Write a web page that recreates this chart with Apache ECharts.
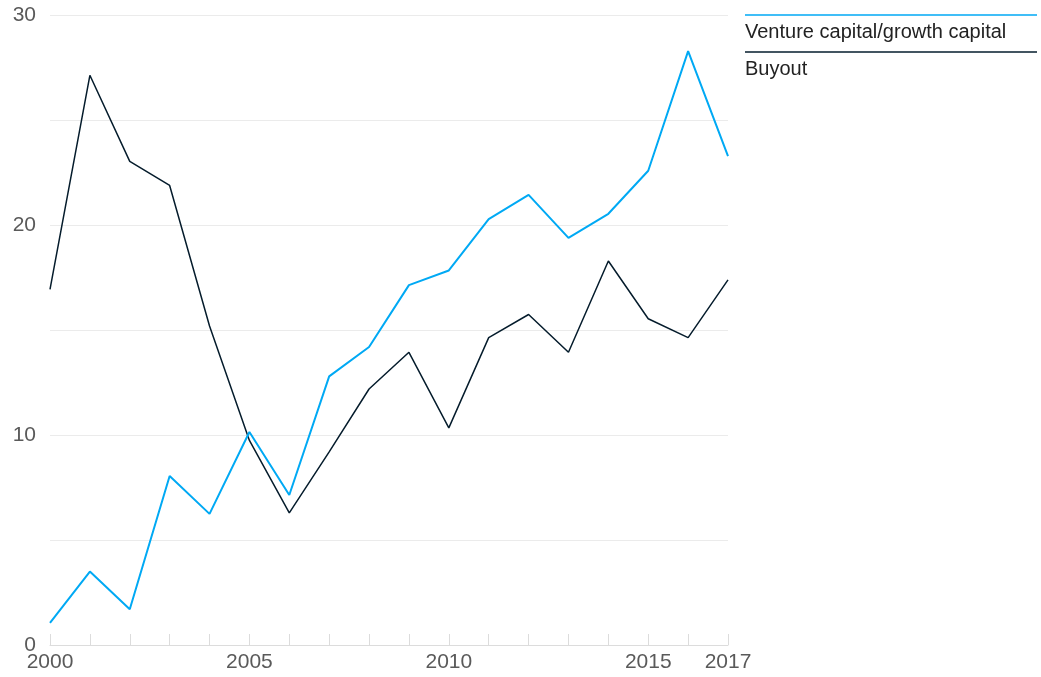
<!DOCTYPE html>
<html>
<head>
<meta charset="utf-8">
<script src="https://cdn.jsdelivr.net/npm/echarts@6/dist/echarts.min.js"></script>
<style>
  html,body{margin:0;padding:0;background:#fff;}
  #chart{width:1041px;height:677px;}
</style>
</head>
<body>
<div id="chart"></div>
<script>
// years on the x axis
const years = [2000,2001,2002,2003,2004,2005,2006,2007,2008,2009,2010,2011,2012,2013,2014,2015,2016,2017]
const xLabels = [2000,2005,2010,2015,2017]
const yLabels = [0,10,20,30]
// series values
const ventureData = [1.05,3.5,1.7,8.05,6.25,10.15,7.15,12.8,14.2,17.15,17.85,20.3,21.45,19.4,20.55,22.6,28.3,23.3]
const buyoutData = [16.95,27.15,23.05,21.9,15.2,9.75,6.3,9.2,12.2,13.95,10.35,14.65,15.75,13.95,18.3,15.55,14.65,17.4]

const blueColor = '#00a9f4'
const navyColor = '#051c2c'
const font = 'Liberation Sans, Arial, sans-serif'

const chart = echarts.init(document.getElementById('chart'))

const option = {
  animation:false,
  grid:{left:50,right:313,top:15.5,bottom:32,containLabel:false},
  xAxis:{
    type:'value',
    min:2000,
    max:2017,
    interval:1,
    axisLine:{show:true,lineStyle:{color:'#dcdcdc',width:1}},
    axisTick:{show:true,inside:true,length:11,lineStyle:{color:'#dcdcdc'}},
    splitLine:{show:false},
    axisLabel:{
      color:'#5a5a5a',
      fontFamily:font,
      fontSize:21,
      margin:7,
      formatter:v=>xLabels.includes(v)?String(v):''
    }
  },
  yAxis:{
    type:'value',
    min:0,
    max:30,
    interval:5,
    axisLine:{show:false},
    axisTick:{show:false},
    splitLine:{lineStyle:{color:'#ebebeb',width:1}},
    axisLabel:{
      color:'#5a5a5a',
      fontFamily:font,
      fontSize:21,
      margin:14,
      formatter:v=>yLabels.includes(v)?String(v):''
    }
  },
  series:[
    {
      name:'Buyout',
      type:'line',
      data:years.map((y,i)=>[y,buyoutData[i]]),
      symbol:'none',
      lineStyle:{color:navyColor,width:1.5},
      z:2
    },
    {
      name:'Venture capital/growth capital',
      type:'line',
      data:years.map((y,i)=>[y,ventureData[i]]),
      symbol:'none',
      lineStyle:{color:blueColor,width:2},
      z:3
    }
  ],
  // legend drawn by hand: a rule above each name
  graphic:[
    {type:'line',shape:{x1:745,y1:15,x2:1037,y2:15},style:{stroke:blueColor,lineWidth:1.5}},
    {type:'text',left:745,top:22,style:{text:'Venture capital/growth capital',fill:'#222',font:'20px '+font}},
    {type:'line',shape:{x1:745,y1:52,x2:1037,y2:52},style:{stroke:navyColor,lineWidth:1.5}},
    {type:'text',left:745,top:59,style:{text:'Buyout',fill:'#222',font:'20px '+font}}
  ]
}
chart.setOption(option)
</script>
</body>
</html>
